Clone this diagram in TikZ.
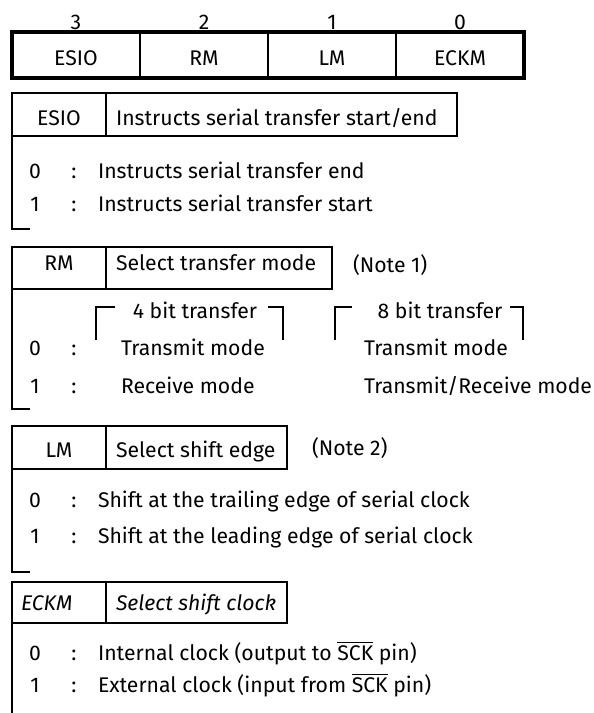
\documentclass[tikz,border=0pt]{standalone}
\usepackage{fontspec}
\setmainfont{Fira Sans}
\usetikzlibrary{positioning}

\tikzset{
  txt/.style={font=\fontsize{10.6}{12}\selectfont, inner sep=0pt, anchor=base},
  lft/.style={txt, anchor=base west},
  slnt/.style={lft, font=\fontsize{10.6}{12}\selectfont\itshape},
  regframe/.style={line width=2pt}
}

\begin{document}
\begin{tikzpicture}[x=0.5pt, y=-0.5pt, line width=1pt]

% Page
\useasboundingbox (0,0) rectangle (594,713);

%%% Register: bits 3..0 %%%
\draw[regframe] (12,32) rectangle (524,78);
\foreach \x in {140,268,396} \draw (\x,32) -- (\x,78);
\node[txt] (bit3) at (76,29) {3};
\node[txt] (bit2) at (204,29) {2};
\node[txt] (bit1) at (332,29) {1};
\node[txt] (bit0) at (460,29) {0};
\node[txt] (reg3) at (76,65) {ESIO};
\node[txt] (reg2) at (204,65) {RM};
\node[txt] (reg1) at (332,65) {LM};
\node[txt] (reg0) at (460,65) {ECKM};

%%% ESIO %%%
\draw (12,93) rectangle (457,136);
\draw (106,93) -- (106,136);
\draw (12,136) -- (12,229) -- (30,229);
\node[txt] (esio) at (59,125) {ESIO};
\node[lft] (esiodesc) at (115,125) {Instructs serial transfer start/end};
\node[txt] (esio0) at (35,178) {0};
\node[txt] (esio0c) at (74,178) {:};
\node[lft] (esio0t) at (97,178) {Instructs serial transfer end};
\node[txt] (esio1) at (35,211) {1};
\node[txt] (esio1c) at (74,211) {:};
\node[lft] (esio1t) at (97,211) {Instructs serial transfer start};

%%% RM %%%
\draw (12,247) rectangle (332,289);
\draw (106,247) -- (106,289);
\draw (12,289) -- (12,409) -- (30,409);
\node[txt] (rm) at (59,270) {RM};
\node[lft] (rmdesc) at (115,270) {Select transfer mode};
\node[lft] (note1) at (352,272) {(Note 1)};
% 4 bit transfer
\draw (96,340) -- (96,307) -- (115,307);
\draw (268,307) -- (283,307) -- (283,340);
\node[txt] (four) at (195,318) {4 bit transfer};
% 8 bit transfer
\draw (335,340) -- (335,307) -- (352,307);
\draw (510,307) -- (523,307) -- (523,340);
\node[txt] (eight) at (440,318) {8 bit transfer};
\node[txt] (rm0) at (35,355) {0};
\node[txt] (rm0c) at (74,355) {:};
\node[lft] (rm0four) at (120,355) {Transmit mode};
\node[lft] (rm0eight) at (363,355) {Transmit mode};
\node[txt] (rm1) at (35,393) {1};
\node[txt] (rm1c) at (74,393) {:};
\node[lft] (rm1four) at (120,393) {Receive mode};
\node[lft] (rm1eight) at (363,393) {Transmit/Receive mode};

%%% LM %%%
\draw (12,426) rectangle (287,469);
\draw (106,426) -- (106,469);
\draw (12,469) -- (12,572) -- (30,572);
\node[txt] (lm) at (59,457) {LM};
\node[lft] (lmdesc) at (115,457) {Select shift edge};
\node[lft] (note2) at (311,455) {(Note 2)};
\node[txt] (lm0) at (35,507) {0};
\node[txt] (lm0c) at (74,507) {:};
\node[lft] (lm0t) at (97,507) {Shift at the trailing edge of serial clock};
\node[txt] (lm1) at (35,543) {1};
\node[txt] (lm1c) at (74,543) {:};
\node[lft] (lm1t) at (97,543) {Shift at the leading edge of serial clock};

%%% ECKM %%%
\draw (12,582) rectangle (287,623);
\draw (106,582) -- (106,623);
\draw (12,623) -- (12,713);
\node[slnt] (eckm) at (20,610) {ECKM};
\node[slnt] (eckmdesc) at (115,610) {Select shift clock};
\node[txt] (eckm0) at (35,660) {0};
\node[txt] (eckm0c) at (74,660) {:};
\node[lft] (eckm0t) at (97,660) {Internal clock (output to $\overline{\mbox{SCK}}$ pin)};
\node[txt] (eckm1) at (35,692) {1};
\node[txt] (eckm1c) at (74,692) {:};
\node[lft] (eckm1t) at (97,692) {External clock (input from $\overline{\mbox{SCK}}$ pin)};

\end{tikzpicture}
\end{document}
